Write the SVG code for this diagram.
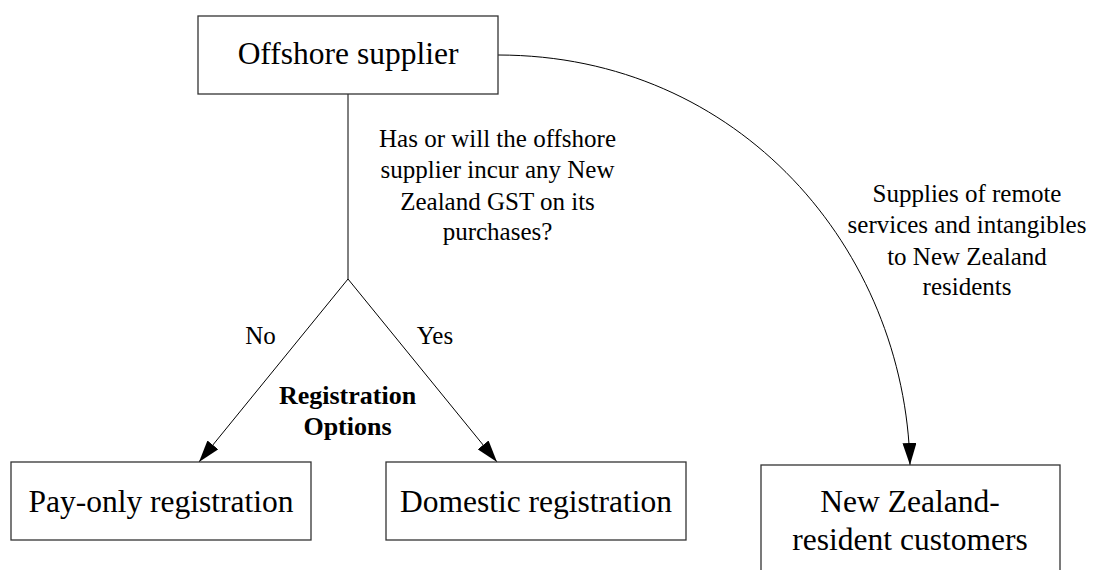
<svg xmlns="http://www.w3.org/2000/svg" width="1102" height="570" viewBox="0 0 1102 570">
<style>
.box{fill:#fff;stroke:#333;stroke-width:1.3}
.big{font-family:"Liberation Serif","Times New Roman",serif;font-size:31.5px;fill:#000;text-anchor:middle}
.lbl{font-family:"Liberation Serif","Times New Roman",serif;font-size:25px;fill:#000;text-anchor:middle}
.bold{font-weight:bold;font-size:26px}
.edge{fill:none;stroke:#000;stroke-width:1}
</style>
<defs>
<marker id="arr" markerUnits="userSpaceOnUse" markerWidth="22" markerHeight="14" viewBox="0 0 22 14" refX="22" refY="7" orient="auto">
<path d="M0,0 L22,7 L0,14 z" fill="#000"/>
</marker>
</defs>
<rect width="1102" height="570" fill="#fff"/>
<g id="connectors">
<path class="edge" d="M348,94 L348,279"/>
<path class="edge" d="M348,279 L199,462" marker-end="url(#arr)"/>
<path class="edge" d="M348,279 L497,462" marker-end="url(#arr)"/>
<path class="edge" d="M498,55 C740,55 905,250 910,465" marker-end="url(#arr)"/>
</g>
<g id="node-offshore">
<rect class="box" x="198" y="16" width="300" height="78"/>
<text class="big" x="348" y="64">Offshore supplier</text>
</g>
<g id="node-payonly">
<rect class="box" x="11" y="462" width="300" height="78"/>
<text class="big" x="161" y="512">Pay-only registration</text>
</g>
<g id="node-domestic">
<rect class="box" x="386" y="462" width="300" height="78"/>
<text class="big" x="536" y="512">Domestic registration</text>
</g>
<g id="node-customers">
<rect class="box" x="761" y="465" width="299" height="120"/>
<text class="big" x="910" y="512">New Zealand-</text>
<text class="big" x="910" y="550">resident customers</text>
</g>
<g id="labels">
<text class="lbl" x="497.5" y="147">Has or will the offshore</text>
<text class="lbl" x="497.5" y="178">supplier incur any New</text>
<text class="lbl" x="497.5" y="210">Zealand GST on its</text>
<text class="lbl" x="497.5" y="240">purchases?</text>
<text class="lbl" x="967" y="202">Supplies of remote</text>
<text class="lbl" x="967" y="233">services and intangibles</text>
<text class="lbl" x="967" y="265">to New Zealand</text>
<text class="lbl" x="967" y="295">residents</text>
<text class="lbl" x="260.5" y="344">No</text>
<text class="lbl" x="435" y="344">Yes</text>
<text class="lbl bold" x="347.5" y="404">Registration</text>
<text class="lbl bold" x="347.5" y="435">Options</text>
</g>
</svg>
